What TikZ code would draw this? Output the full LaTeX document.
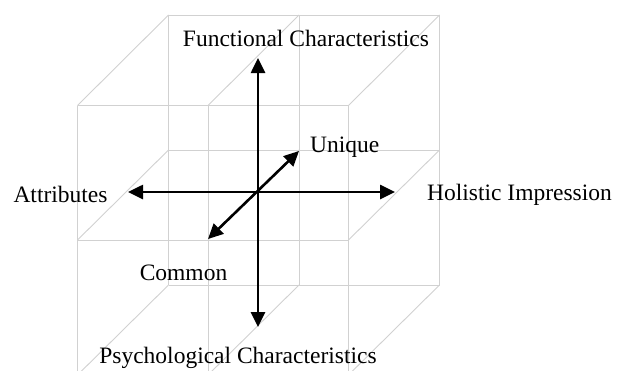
\documentclass[tikz,border=0pt]{standalone}
\usepackage{fontspec}
\setmainfont{Liberation Serif}
\usetikzlibrary{arrows.meta}
\begin{document}
\begin{tikzpicture}[x=1pt,y=-1pt,
  grid/.style={draw=black!18,line width=0.9pt},
  axis/.style={draw=black,line width=2.6pt,{Triangle[length=15pt,width=14pt]}-{Triangle[length=15pt,width=14pt]}},
  lbl/.style={inner sep=0pt,font=\fontsize{23.5}{28}\selectfont}]
\useasboundingbox (0,0) rectangle (617,370);
% back face grid
\foreach \y in {15,150,285} \draw[grid] (168.5,\y) -- (439.5,\y);
\foreach \x in {168.5,299,439.5} \draw[grid] (\x,15) -- (\x,285);
% front face grid
\foreach \y in {105.5,240,375} \draw[grid] (77.5,\y) -- (348.5,\y);
\foreach \x in {77.5,208,348.5} \draw[grid] (\x,105.5) -- (\x,375);
% depth edges
\foreach \x/\u in {168.5/77.5,299/208,439.5/348.5}
  \foreach \y/\v in {15/105.5,150/240,285/375}
    \draw[grid] (\x,\y) -- (\u,\v);
% axis end points
\coordinate (top) at (258,58);
\coordinate (bot) at (258,327);
\coordinate (lft) at (128,192);
\coordinate (rgt) at (395,192);
\coordinate (uni) at (299,151);
\coordinate (com) at (208,239);
\draw[axis] (bot) -- (top);
\draw[axis] (lft) -- (rgt);
\draw[axis] (com) -- (uni);
% labels
\node[lbl,anchor=base] (fc) at (306,46.7) {Functional Characteristics};
\node[lbl,anchor=base west] (un) at (310,152.5) {Unique};
\node[lbl,anchor=base] (at) at (60.5,202.5) {Attributes};
\node[lbl,anchor=base] (hi) at (519.5,200) {Holistic Impression};
\node[lbl,anchor=base] (cm) at (183.5,280) {Common};
\node[lbl,anchor=base] (pc) at (238,363) {Psychological Characteristics};
\end{tikzpicture}
\end{document}
